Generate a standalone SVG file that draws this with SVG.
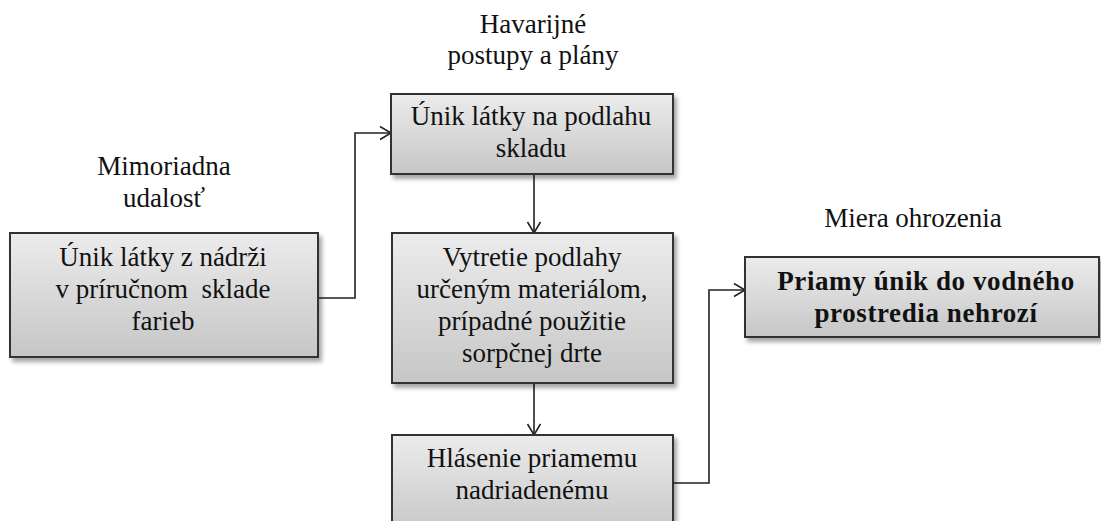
<svg xmlns="http://www.w3.org/2000/svg" width="1101" height="521" viewBox="0 0 1101 521">
  <defs>
    <linearGradient id="boxFill" x1="0" y1="0" x2="0" y2="1">
      <stop offset="0" stop-color="#ececec"/>
      <stop offset="1" stop-color="#c6c6c6"/>
    </linearGradient>
    <filter id="shadow" x="-10%" y="-10%" width="125%" height="135%">
      <feDropShadow dx="3" dy="4" stdDeviation="2.2" flood-color="#000" flood-opacity="0.35"/>
    </filter>
    <marker id="arrow" markerUnits="userSpaceOnUse" markerWidth="14" markerHeight="16" refX="12" refY="7" orient="auto">
      <path d="M1,0.5 L12,7 L1,13.5" fill="none" stroke="#222" stroke-width="1.6"/>
    </marker>
  </defs>
  <style>
    .box { fill: url(#boxFill); stroke: #333; stroke-width: 2; filter: url(#shadow); }
    .conn { fill: none; stroke: #222; stroke-width: 1.6; marker-end: url(#arrow); }
  </style>

  <rect width="1101" height="521" fill="#fff"/>

  <!-- column headings -->
  <g id="heading-event" font-family="Liberation Serif" font-size="27" fill="#111" text-anchor="middle">
    <text x="164" y="175">Mimoriadna</text>
    <text x="164" y="207">udalosť</text>
  </g>
  <g id="heading-plans" font-family="Liberation Serif" font-size="27" fill="#111" text-anchor="middle">
    <text x="533" y="33">Havarijné</text>
    <text x="533" y="64">postupy a plány</text>
  </g>
  <g id="heading-threat" font-family="Liberation Serif" font-size="27" fill="#111" text-anchor="middle">
    <text x="913" y="227">Miera ohrozenia</text>
  </g>

  <!-- connectors -->
  <g id="connectors">
    <path class="conn" d="M318,298 H355 V133 H391"/>
    <path class="conn" d="M534,174 V233"/>
    <path class="conn" d="M534,383 V435"/>
    <path class="conn" d="M673,483 H709 V290 H745"/>
  </g>

  <!-- nodes -->
  <g id="node-leak-tank" font-family="Liberation Serif" font-size="27" fill="#111" text-anchor="middle">
    <rect class="box" x="10" y="233" width="308" height="124"/>
    <text x="163" y="266">Únik látky z nádrži</text>
    <text x="163" y="298" xml:space="preserve">v príručnom  sklade</text>
    <text x="163" y="330">farieb</text>
  </g>

  <g id="node-leak-floor" font-family="Liberation Serif" font-size="27" fill="#111" text-anchor="middle">
    <rect class="box" x="391" y="94" width="282" height="80"/>
    <text x="531" y="125">Únik látky na podlahu</text>
    <text x="531" y="157">skladu</text>
  </g>

  <g id="node-cleanup" font-family="Liberation Serif" font-size="27" fill="#111" text-anchor="middle">
    <rect class="box" x="392" y="233" width="281" height="150"/>
    <text x="532" y="266">Vytretie podlahy</text>
    <text x="532" y="298">určeným materiálom,</text>
    <text x="532" y="330">prípadné použitie</text>
    <text x="532" y="362">sorpčnej drte</text>
  </g>

  <g id="node-report" font-family="Liberation Serif" font-size="27" fill="#111" text-anchor="middle">
    <rect class="box" x="392" y="435" width="281" height="100"/>
    <text x="532" y="467">Hlásenie priamemu</text>
    <text x="532" y="499">nadriadenému</text>
  </g>

  <g id="node-threat" font-family="Liberation Serif" font-size="27" fill="#111" text-anchor="middle">
    <rect class="box" x="745" y="257" width="354" height="80"/>
    <text x="926" y="290" font-weight="bold" letter-spacing="0.6">Priamy únik do vodného</text>
    <text x="926" y="322" font-weight="bold" letter-spacing="0.6">prostredia nehrozí</text>
  </g>
</svg>
